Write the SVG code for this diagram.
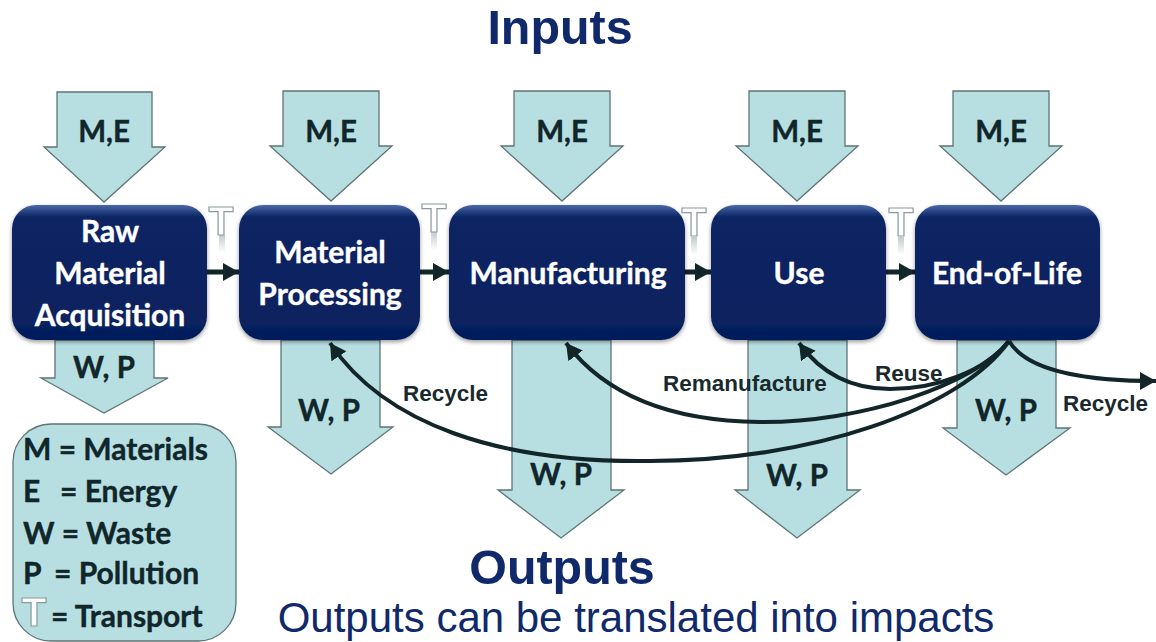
<svg xmlns="http://www.w3.org/2000/svg" width="1156" height="642" viewBox="0 0 1156 642">
<style>
.ar{fill:#b7dfe2;stroke:#5f7476;stroke-width:1.3}
.box{fill:url(#bg);filter:url(#sh)}
.bt{font:bold 30px Lato,"Open Sans",sans-serif;fill:#fff;stroke:#fff;stroke-width:.4;text-anchor:middle}
.lb{font:bold 29.5px Lato,"Open Sans",sans-serif;fill:#10262a;stroke:#10262a;stroke-width:.4;text-anchor:middle}
.lg{font:bold 30px Lato,"Open Sans",sans-serif;fill:#10262a;stroke:#10262a;stroke-width:.4}
.cl{font:bold 22.5px "Liberation Sans",Arial,sans-serif;fill:#1a2a2c}
.tt{font:bold 41px "Liberation Sans",Arial,sans-serif;fill:#fff;stroke:#8b9b9d;stroke-width:1.2;text-anchor:middle;opacity:.99}
.c{fill:none;stroke:#12262a;stroke-width:4}
.h{fill:none;stroke:#12262a;stroke-width:5}
.ti{font:bold 48.4px "Liberation Sans",Arial,sans-serif;fill:#10296b;text-anchor:middle}
</style>
<defs>
<linearGradient id="bg" x1="0" y1="0" x2="0" y2="1">
<stop offset="0" stop-color="#4a68a8"/><stop offset=".09" stop-color="#0b2563"/><stop offset=".88" stop-color="#07225e"/><stop offset="1" stop-color="#021a5a"/>
</linearGradient>
<linearGradient id="fd" x1="0" y1="0" x2="0" y2="1"><stop offset="0" stop-color="#a9b6b8" stop-opacity=".7"/><stop offset="1" stop-color="#a9b6b8" stop-opacity="0"/></linearGradient>
<filter id="sh" x="-5%" y="-5%" width="110%" height="112%"><feDropShadow dx="0" dy="2" stdDeviation="2" flood-color="#000" flood-opacity=".4"/></filter>
<marker id="m" markerUnits="userSpaceOnUse" markerWidth="20" markerHeight="20" refX="16" refY="9" orient="auto"><path d="M0 0L16 9L0 18z" fill="#12262a"/></marker>
</defs>

<text class="ti" x="560" y="44">Inputs</text>

<g id="inputs">
<g id="in1"><path class="ar" d="M57 92H152V147H165L104 202L44 147H57Z"/><text class="lb" x="104" y="142">M,E</text></g>
<g id="in2"><path class="ar" d="M283 91H379V146H392L331 201L270 146H283Z"/><text class="lb" x="331" y="142">M,E</text></g>
<g id="in3"><path class="ar" d="M514 91H610V146H623L562 201L501 146H514Z"/><text class="lb" x="562" y="142">M,E</text></g>
<g id="in4"><path class="ar" d="M749 91H845V146H858L797 201L736 146H749Z"/><text class="lb" x="797" y="142">M,E</text></g>
<g id="in5"><path class="ar" d="M953 91H1049V146H1062L1001 201L940 146H953Z"/><text class="lb" x="1001" y="142">M,E</text></g>
</g>

<g id="outputs">
<g id="out1"><path class="ar" d="M55 340H154V378H168L104 413L41 378H55Z"/><text class="lb" x="104" y="378">W, P</text></g>
<g id="out2"><path class="ar" d="M281 340H380V427H393L331 474L268 427H281Z"/><text class="lb" x="329" y="421">W, P</text></g>
<g id="out3"><path class="ar" d="M512 340H611V490H624L561 538L498 490H512Z"/><text class="lb" x="561" y="485">W, P</text></g>
<g id="out4"><path class="ar" d="M748 340H847V490H860L797 538L735 490H748Z"/><text class="lb" x="797" y="486">W, P</text></g>
<g id="out5"><path class="ar" d="M957 340H1056V428H1070L1006 475L943 428H957Z"/><text class="lb" x="1006" y="421">W, P</text></g>
</g>

<g id="connectors">
<path class="h" marker-end="url(#m)" d="M207 272H239"/>
<path class="h" marker-end="url(#m)" d="M420 272H449"/>
<path class="h" marker-end="url(#m)" d="M685 272H711"/>
<path class="h" marker-end="url(#m)" d="M886 272H915"/>
<path class="c" marker-end="url(#m)" d="M1009 341C985 372 935 389 890 389C850 389 820 372 799 343"/>
<path class="c" marker-end="url(#m)" d="M1009 341C975 385 860 423 760 422C670 421 605 395 566 343"/>
<path class="c" marker-end="url(#m)" d="M1009 341C960 410 810 461 650 461C500 463 385 425 330 343"/>
<path class="c" marker-end="url(#m)" d="M1009 341C1025 368 1075 381 1156 381"/>
</g>

<g id="raw"><rect class="box" x="12" y="205" width="195" height="135" rx="24"/><text class="bt" x="110" y="242">Raw</text><text class="bt" x="110" y="284">Material</text><text class="bt" x="110" y="326">Acquisition</text></g>
<g id="processing"><rect class="box" x="239" y="205" width="181" height="135" rx="24"/><text class="bt" x="330" y="263">Material</text><text class="bt" x="330" y="305">Processing</text></g>
<g id="manufacturing"><rect class="box" x="449" y="205" width="236" height="135" rx="24"/><text class="bt" x="568" y="284">Manufacturing</text></g>
<g id="use"><rect class="box" x="711" y="205" width="175" height="135" rx="24"/><text class="bt" x="799" y="284">Use</text></g>
<g id="eol"><rect class="box" x="915" y="205" width="185" height="135" rx="24"/><text class="bt" x="1007" y="284">End-of-Life</text></g>

<g id="transport">
<rect x="219" y="235" width="6" height="18" fill="url(#fd)"/><text class="tt" x="221" y="235">T</text>
<rect x="431" y="232" width="6" height="18" fill="url(#fd)"/><text class="tt" x="434" y="232">T</text>
<rect x="691" y="237" width="6" height="18" fill="url(#fd)"/><text class="tt" x="694" y="236">T</text>
<rect x="898" y="237" width="6" height="18" fill="url(#fd)"/><text class="tt" x="901" y="236">T</text>
</g>

<text class="cl" x="403" y="401">Recycle</text>
<text class="cl" x="663" y="391">Remanufacture</text>
<text class="cl" x="875" y="381">Reuse</text>
<text class="cl" x="1063" y="411">Recycle</text>

<g id="legend">
<rect x="13" y="424" width="223" height="217" rx="38" fill="#b7dfe2" stroke="#5f7476" stroke-width="1.3"/>
<text class="lg" x="23" y="460">M = Materials</text>
<text class="lg" x="23" y="502">E</text><text class="lg" x="60" y="502">= Energy</text>
<text class="lg" x="23" y="544">W = Waste</text>
<text class="lg" x="23" y="584">P</text><text class="lg" x="54" y="584">= Pollution</text>
<text class="tt" x="34" y="626">T</text>
<text class="lg" x="51" y="627">= Transport</text>
</g>

<text class="ti" x="562" y="584">Outputs</text>
<text x="636" y="632" text-anchor="middle" style="font:42px 'Liberation Sans',Arial,sans-serif;fill:#10296b">Outputs can be translated into impacts</text>
</svg>
